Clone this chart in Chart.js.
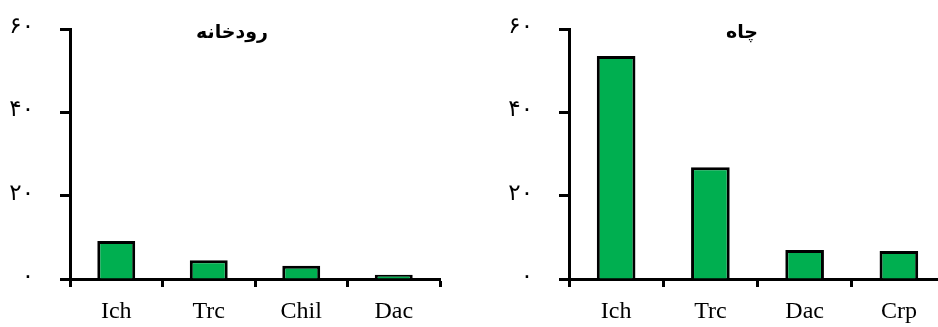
<!DOCTYPE html>
<html>
<head>
<meta charset="utf-8">
<script src="https://cdn.jsdelivr.net/npm/chart.js@4/dist/chart.umd.min.js"></script>
<style>
  html, body { margin: 0; padding: 0; background: #fff; overflow: hidden; }
  #wrap { position: relative; width: 938px; height: 327px; }
  canvas { position: absolute; top: 0; }
</style>
</head>
<body>
<div id="wrap">
  <canvas id="river" width="469" height="327" style="left:0"></canvas>
  <canvas id="well" width="477" height="327" style="left:469px"></canvas>
</div>
<script>
// river panel
const riverTitle = 'رودخانه'
const riverLabels = ['Ich', 'Trc', 'Chil', 'Dac']
const riverValues = [9.1, 4.5, 3.2, 1.0]

// well panel
const wellTitle = 'چاه'
const wellLabels = ['Ich', 'Trc', 'Dac', 'Crp']
const wellValues = [53.5, 26.8, 6.95, 6.7]

const yTicks = [0, 20, 40, 60]

const faDigits = ['۰', '۱', '۲', '۳', '۴', '۵', '۶', '۷', '۸', '۹']
const toFa = (v) => String(v).replace(/\d/g, (d) => faDigits[+d])

// draws the panel title inside the plot area
const innerTitle = {
  id: 'innerTitle',
  afterDraw(chart, args, opts) {
    const { ctx, chartArea } = chart
    ctx.save()
    ctx.font = 'bold 19px "DejaVu Sans"'
    ctx.fillStyle = '#000'
    ctx.textAlign = 'center'
    ctx.textBaseline = 'middle'
    ctx.fillText(opts.text, chartArea.left + opts.dx, chartArea.top + 4)
    ctx.restore()
  },
}

function makeChart(id, labels, values, title, yWidth, padRight, titleDx) {
  return new Chart(document.getElementById(id), {
    type: 'bar',
    data: {
      labels: labels,
      datasets: [
        {
          data: values,
          backgroundColor: '#00AF50',
          borderColor: '#000',
          borderWidth: 3,
          categoryPercentage: 1,
          barPercentage: 0.41,
        },
      ],
    },
    options: {
      responsive: false,
      animation: false,
      layout: { padding: { top: 29, right: padRight, left: 0, bottom: 0 } },
      plugins: {
        legend: { display: false },
        tooltip: { enabled: false },
        innerTitle: { text: title, dx: titleDx },
      },
      scales: {
        x: {
          grid: {
            display: true,
            drawOnChartArea: false,
            drawTicks: true,
            tickLength: 8,
            tickWidth: 3,
            tickColor: '#000',
            offset: true,
          },
          border: { color: '#000', width: 3 },
          ticks: {
            color: '#000',
            font: { family: '"Liberation Serif"', size: 24 },
            padding: 10,
          },
          afterFit: (s) => {
            s.height = 48
            s.paddingLeft = 0
            s.paddingRight = 0
          },
        },
        y: {
          min: 0,
          max: 60,
          afterBuildTicks: (s) => { s.ticks = yTicks.map((v) => ({ value: v })) },
          grid: {
            display: true,
            drawOnChartArea: false,
            tickLength: 10,
            tickWidth: 3,
            tickColor: '#000',
          },
          border: { color: '#000', width: 3 },
          ticks: {
            color: '#000',
            font: { family: '"DejaVu Sans"', size: 23 },
            padding: 26,
            labelOffset: -2,
            callback: (v) => toFa(v),
          },
          afterFit: (s) => {
            s.width = yWidth
            s.paddingTop = 0
            s.paddingBottom = 0
          },
        },
      },
    },
    plugins: [innerTitle],
  })
}

makeChart('river', riverLabels, riverValues, riverTitle, 70, 29, 162)
makeChart('well', wellLabels, wellValues, wellTitle, 100, 0, 173)
</script>
</body>
</html>
